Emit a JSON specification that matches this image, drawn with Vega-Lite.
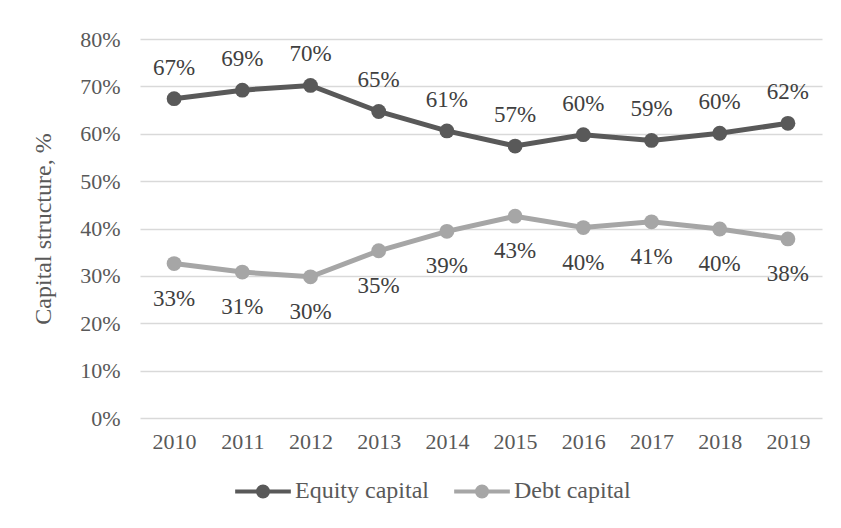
{
  "$schema": "https://vega.github.io/schema/vega-lite/v6.json",
  "width": 682,
  "height": 379,
  "autosize": "none",
  "padding": {"left": 140, "top": 39, "right": 19, "bottom": 110},
  "background": "white",
  "config": {
    "font": "Liberation Serif",
    "view": {"stroke": null}
  },
  "data": {
    "values": [
      {"year": "2010", "series": "Equity capital", "value": 0.674},
      {"year": "2011", "series": "Equity capital", "value": 0.692},
      {"year": "2012", "series": "Equity capital", "value": 0.702},
      {"year": "2013", "series": "Equity capital", "value": 0.647},
      {"year": "2014", "series": "Equity capital", "value": 0.606},
      {"year": "2015", "series": "Equity capital", "value": 0.574},
      {"year": "2016", "series": "Equity capital", "value": 0.598},
      {"year": "2017", "series": "Equity capital", "value": 0.586},
      {"year": "2018", "series": "Equity capital", "value": 0.601},
      {"year": "2019", "series": "Equity capital", "value": 0.622},
      {"year": "2010", "series": "Debt capital", "value": 0.326},
      {"year": "2011", "series": "Debt capital", "value": 0.308},
      {"year": "2012", "series": "Debt capital", "value": 0.298},
      {"year": "2013", "series": "Debt capital", "value": 0.353},
      {"year": "2014", "series": "Debt capital", "value": 0.394},
      {"year": "2015", "series": "Debt capital", "value": 0.426},
      {"year": "2016", "series": "Debt capital", "value": 0.402},
      {"year": "2017", "series": "Debt capital", "value": 0.414},
      {"year": "2018", "series": "Debt capital", "value": 0.399},
      {"year": "2019", "series": "Debt capital", "value": 0.378}
    ]
  },
  "encoding": {
    "x": {
      "field": "year", "type": "ordinal",
      "scale": {"paddingInner": 0, "paddingOuter": 0.5},
      "axis": {
        "title": null, "labelAngle": 0, "domain": false, "ticks": false,
        "labelFontSize": 22, "labelColor": "#595959", "labelPadding": 13
      }
    },
    "y": {
      "field": "value", "type": "quantitative",
      "scale": {"domain": [0, 0.8], "nice": false},
      "axis": {
        "title": "Capital structure, %", "titleFontSize": 24, "titleFontWeight": "normal",
        "titleColor": "#595959", "titlePadding": 24,
        "values": [0, 0.1, 0.2, 0.3, 0.4, 0.5, 0.6, 0.7, 0.8], "format": ".0%",
        "domain": false, "ticks": false, "labelFontSize": 22, "labelColor": "#595959",
        "labelPadding": 20, "gridColor": "#d9d9d9", "gridWidth": 1.5
      }
    },
    "color": {
      "field": "series", "type": "nominal",
      "scale": {"domain": ["Equity capital", "Debt capital"], "range": ["#595959", "#a6a6a6"]},
      "legend": {
        "title": null, "orient": "none", "legendX": 93, "legendY": 422, "direction": "horizontal",
        "labelFontSize": 24, "labelColor": "#595959",
        "symbolType": "M-1,0H1M-0.18,0A0.18,0.18 0 1,0 0.18,0A0.18,0.18 0 1,0 -0.18,0Z",
        "symbolSize": 3100, "symbolStrokeWidth": 4, "columnPadding": 17, "labelOffset": 2
      }
    }
  },
  "layer": [
    {
      "mark": {"type": "line", "strokeWidth": 5, "point": {"filled": true, "size": 220}}
    },
    {
      "transform": [{"filter": "datum.series == 'Equity capital'"}],
      "mark": {"type": "text", "dy": -31, "fontSize": 23, "color": "#404040"},
      "encoding": {"text": {"field": "value", "format": ".0%"}, "color": {"value": "#404040"}}
    },
    {
      "transform": [{"filter": "datum.series == 'Debt capital'"}],
      "mark": {"type": "text", "dy": 35, "fontSize": 23, "color": "#404040"},
      "encoding": {"text": {"field": "value", "format": ".0%"}, "color": {"value": "#404040"}}
    }
  ]
}
